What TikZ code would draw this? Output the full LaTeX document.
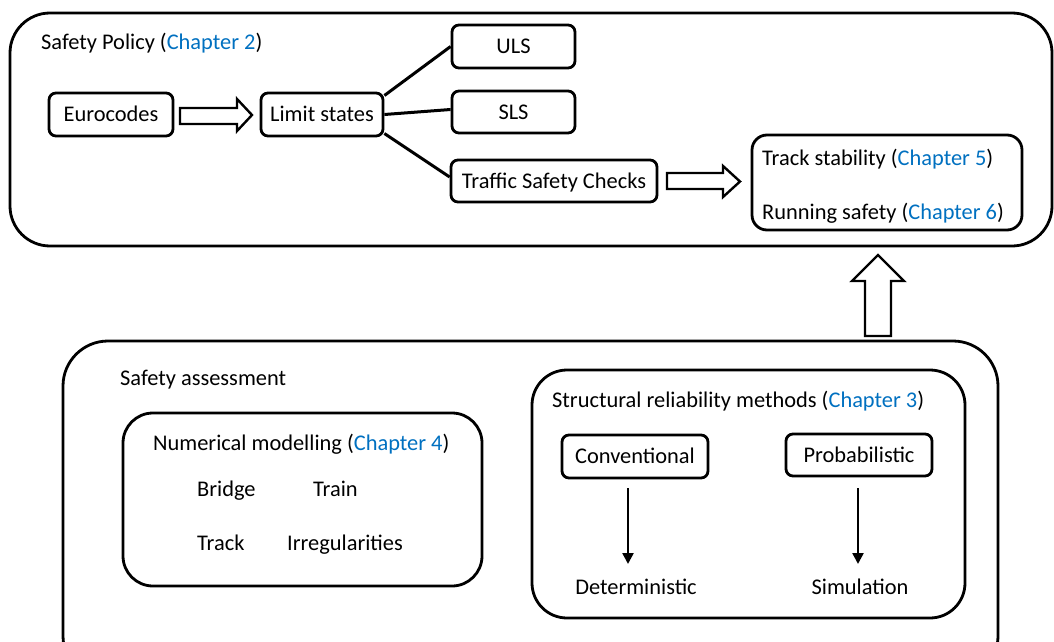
\documentclass[tikz,border=0pt]{standalone}
\usepackage{fontspec}
\setmainfont{Carlito}
\usetikzlibrary{arrows.meta}
\definecolor{chap}{RGB}{0,112,192}
\newcommand\myfs{\fontsize{22.4}{26}\selectfont}
\newcommand\chap[1]{(\textcolor{chap}{Chapter #1})}
\begin{document}
\begin{tikzpicture}[x=1pt,y=-1pt,
  box/.style={draw, line width=2.8pt, rounded corners=7pt, inner sep=0pt, font=\myfs, text height=16pt, text depth=2pt},
  bigbox/.style={draw, line width=2.8pt, inner sep=0pt},
  lbl/.style={inner sep=0pt, font=\myfs, anchor=base west},
  plain/.style={inner sep=0pt, font=\myfs, anchor=base},
  link/.style={line width=3pt},
  hollow/.style={draw, line width=2.4pt, fill=white, line join=miter},
  down/.style={line width=2.4pt, -{Triangle[length=11pt,width=11pt]}}]
\useasboundingbox (0,0) rectangle (1054,642);
\clip (0,0) rectangle (1054,642);

% outer containers
\node[bigbox, rounded corners=40pt, minimum width=1042pt, minimum height=233pt] (policy) at (531,129.5) {};
\node[bigbox, rounded corners=45pt, minimum width=935pt, minimum height=340pt] (assess) at (530.5,511) {};

% Safety policy
\node[lbl] (ptitle) at (41,50) {Safety Policy \chap{2}};
\node[box, minimum width=124pt, minimum height=43pt] (euro) at (111,114.5) {Eurocodes};
\node[box, minimum width=122pt, minimum height=43pt] (ls) at (322,114.5) {Limit states};
\node[box, minimum width=123pt, minimum height=43pt] (uls) at (513.5,46.5) {ULS};
\node[box, minimum width=123pt, minimum height=42pt] (sls) at (513.5,112) {SLS};
\node[box, minimum width=206pt, minimum height=42pt] (tsc) at (554,181) {Traffic Safety Checks};
\node[box, rounded corners=15pt, minimum width=270pt, minimum height=95pt] (trk) at (887,182.5) {};
\node[lbl] (ts) at (762,165) {Track stability \chap{5}};
\node[lbl] (rs) at (762,219) {Running safety \chap{6}};

\draw[link] ([yshift=19pt]ls.east) -- ([yshift=0pt]uls.west);
\draw[link] ([yshift=0pt]ls.east) -- ([yshift=2.5pt]sls.west);
\draw[link] ([yshift=-19pt]ls.east) -- ([yshift=4pt]tsc.west);

% hollow arrows
\draw[hollow] (180,108) -- (237,108) -- (237,99) -- (252,115) -- (237,131) -- (237,124) -- (180,124) -- cycle;
\draw[hollow] (667,173) -- (723,173) -- (723,166) -- (740,181.5) -- (723,197) -- (723,189) -- (667,189) -- cycle;
\draw[hollow] (865,336) -- (865,281) -- (852,281) -- (878,255) -- (904,281) -- (891,281) -- (891,336) -- cycle;

% Safety assessment
\node[lbl] (atitle) at (120,385) {Safety assessment};
\node[bigbox, rounded corners=30pt, minimum width=359pt, minimum height=173pt] (num) at (302.5,499.5) {};
\node[lbl] (ntitle) at (153,450) {Numerical modelling \chap{4}};
\node[lbl] (bridge) at (197,496) {Bridge};
\node[lbl] (train) at (313,496) {Train};
\node[lbl] (track) at (197,550) {Track};
\node[lbl] (irr) at (287,550) {Irregularities};

\node[bigbox, rounded corners=35pt, minimum width=433pt, minimum height=248pt] (srm) at (748.5,494) {};
\node[lbl] (stitle) at (552,407) {Structural reliability methods \chap{3}};
\node[box, minimum width=146pt, minimum height=43pt] (conv) at (635,456.5) {Conventional};
\node[box, minimum width=146pt, minimum height=42pt] (prob) at (859,455) {Probabilistic};
\node[plain] (det) at (636,594) {Deterministic};
\node[plain] (sim) at (860,594) {Simulation};
\draw[down] (conv.south -| 628,0) ++(0,9) -- (628,564);
\draw[down] (prob.south -| 858,0) ++(0,11) -- (858,564);
\end{tikzpicture}
\end{document}
